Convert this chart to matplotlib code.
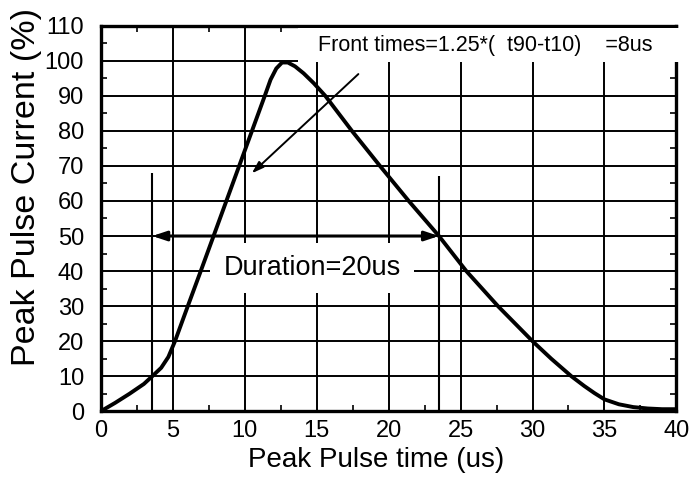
import matplotlib
matplotlib.use("Agg")
import matplotlib.pyplot as plt
from matplotlib.patches import Rectangle
from matplotlib.ticker import MultipleLocator

# pulse waveform (time in us, current in % of peak)
time_us = [0, 1, 2, 3, 3.58, 4.2, 4.7, 5.16, 6.05, 6.95, 7.84, 8.73, 9.62, 10.51,
           11.4, 11.8, 12.2, 12.6, 13.0, 13.5, 14.1, 14.8, 15.6, 17.45, 19.4,
           21.4, 23.5, 25.4, 27.6, 30.0, 31.3, 32.7, 33.6, 34.3, 35.0, 36.0,
           37.0, 38.0, 39.0, 40.0]
current_pct = [0, 2.4, 5.0, 7.8, 10, 12.4, 15.5, 20, 30, 40, 50, 60, 70, 80,
               90, 94.6, 97.8, 99.5, 99.5, 98.4, 96.4, 93.6, 90, 80, 70,
               60, 50, 40, 30, 20, 15, 10, 7.2, 5.2, 3.4, 2.0,
               1.2, 0.8, 0.6, 0.6]

# marker lines (t10 on the rise, 50% on the fall) and their heights
marker_t = [3.58, 23.5]
marker_top = [68, 67]
duration_y = 50

front_text = "Front times=1.25*(  t90-t10)    =8us"
duration_text = "Duration=20us"

plt.rcParams["font.family"] = ["Liberation Sans", "DejaVu Sans"]

fig = plt.figure(figsize=(6.97, 4.82), dpi=100)
ax = fig.add_axes([0.1445, 0.1467, 0.826, 0.800])

ax.plot(time_us, current_pct, color="black", lw=2.8, zorder=3,
        solid_joinstyle="round")

ax.vlines(marker_t, 0, marker_top, color="black", lw=1.5, zorder=3)

ax.annotate("", xy=(marker_t[1], duration_y), xytext=(marker_t[0], duration_y),
            arrowprops=dict(arrowstyle="<|-|>,head_length=0.6,head_width=0.2",
                            lw=2.2, color="black", shrinkA=0, shrinkB=0,
                            mutation_scale=14), zorder=4)

ax.annotate("", xy=(10.5, 67.9), xytext=(17.9, 96.2),
            arrowprops=dict(arrowstyle="-|>,head_length=0.6,head_width=0.2",
                            lw=1.4, color="black", shrinkA=0, shrinkB=0,
                            mutation_scale=12), zorder=4)

# white boxes behind the labels
ax.add_patch(Rectangle((7.6, 33.7), 14.2, 14.3, fc="white", ec="none", zorder=1.8))
ax.add_patch(Rectangle((13.7, 99.5), 26.7, 9.9, fc="white", ec="none",
                       zorder=2.6, clip_on=False))

ax.text(14.7, 40.9, duration_text, fontsize=19.5, ha="center", va="center", zorder=5)
ax.text(15.1, 104.4, front_text, fontsize=15.5, ha="left", va="center", zorder=5)

ax.set_xlim(0, 40)
ax.set_ylim(0, 110)
ax.xaxis.set_major_locator(MultipleLocator(5))
ax.xaxis.set_minor_locator(MultipleLocator(2.5))
ax.yaxis.set_major_locator(MultipleLocator(10))
ax.yaxis.set_minor_locator(MultipleLocator(5))

ax.grid(True, which="major", color="black", lw=1.4)
ax.tick_params(which="both", direction="in", top=True, right=True,
               labelsize=17, width=1.2)
ax.tick_params(which="major", length=0)
ax.tick_params(which="minor", length=4)
ax.tick_params(axis="y", pad=12)
ax.tick_params(axis="x", pad=6)
for sp in ax.spines.values():
    sp.set_linewidth(2.4)

ax.set_xlabel("Peak Pulse time (us)", fontsize=20, labelpad=4)
ax.set_ylabel("Peak Pulse Current (%)", fontsize=24.5, labelpad=2)
ax.xaxis.label.set_x(0.479)
ax.yaxis.label.set_y(0.582)

fig.savefig("out.png", dpi=100)
